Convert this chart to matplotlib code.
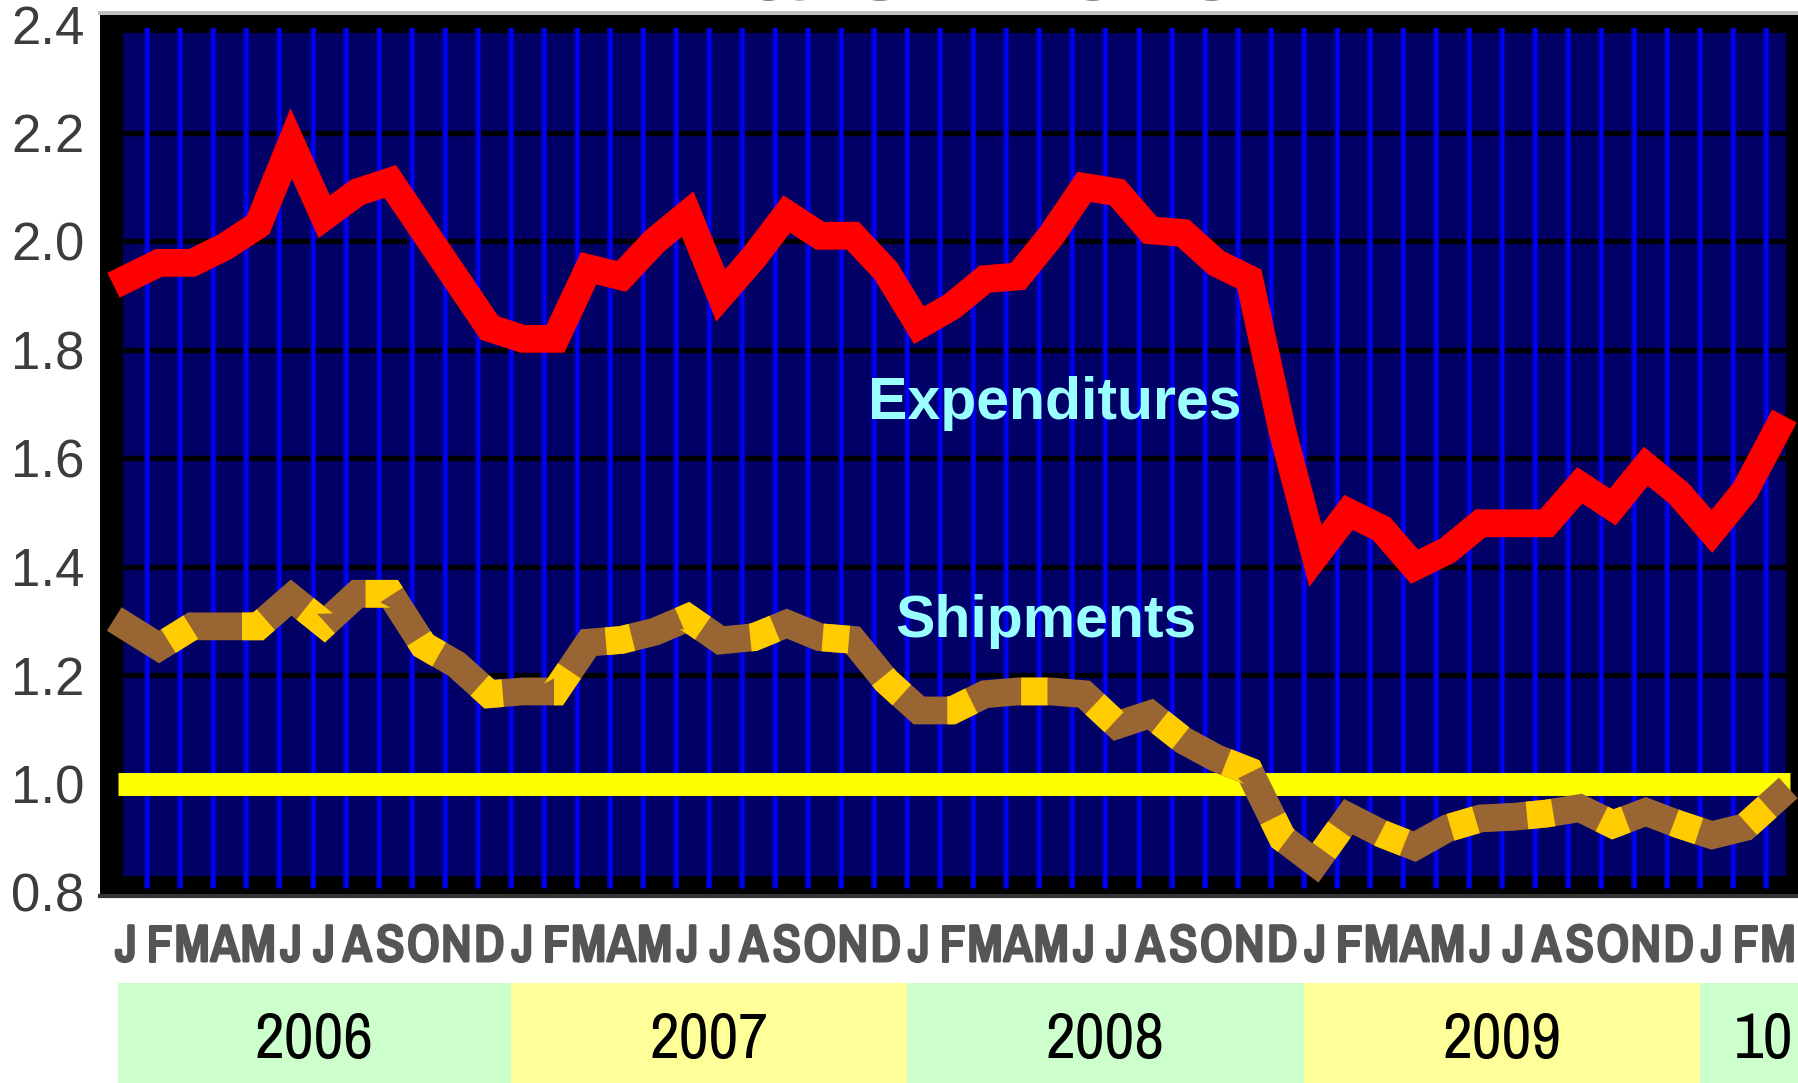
import matplotlib
matplotlib.use("Agg")
import matplotlib.pyplot as plt
import matplotlib.patheffects as pe
from matplotlib import font_manager
from matplotlib.patches import Rectangle

# monthly index Jan 2006 .. Mar 2010
months = list(range(51))
month_letters = list("JFMAMJJASOND") * 4 + list("JFM")

expenditures = [1.93, 1.96, 1.96, 1.99, 2.03, 2.18, 2.045, 2.09, 2.11, 2.02, 1.93, 1.84,
                1.82, 1.82, 1.95, 1.935, 2.00, 2.05, 1.90, 1.97, 2.05, 2.01, 2.01, 1.945,
                1.845, 1.88, 1.93, 1.935, 2.01, 2.10, 2.09, 2.02, 2.015, 1.96, 1.93, 1.65,
                1.42, 1.50, 1.47, 1.40, 1.43, 1.48, 1.48, 1.48, 1.55, 1.51, 1.585, 1.535,
                1.465, 1.54, 1.655]
shipments = [1.29, 1.252, 1.29, 1.29, 1.29, 1.343, 1.294, 1.35, 1.35, 1.255, 1.22, 1.165,
             1.17, 1.17, 1.26, 1.265, 1.28, 1.306, 1.264, 1.27, 1.295, 1.27, 1.265, 1.19,
             1.135, 1.135, 1.165, 1.17, 1.17, 1.165, 1.108, 1.128, 1.08, 1.047, 1.023, 0.90,
             0.854, 0.939, 0.908, 0.884, 0.918, 0.936, 0.939, 0.945, 0.955, 0.925, 0.948, 0.925,
             0.905, 0.92, 0.975]
reference = 1.0

years = ["2006", "2007", "2008", "2009", "10"]
year_colors = ["#ccffcc", "#ffff99", "#ccffcc", "#ffff99", "#ccffcc"]
yticks = [0.8, 1.0, 1.2, 1.4, 1.6, 1.8, 2.0, 2.2, 2.4]

SANS = "Liberation Sans"


def narrow_font():
    # the month letters and years in the original are set in a condensed face
    fonts = font_manager.fontManager.ttflist
    for f in fonts:
        if "Narrow" in f.name:
            return {"family": f.name}, True
    for f in fonts:
        if "Condensed" in f.name:
            return {"family": f.name}, True
    for f in fonts:
        if f.stretch in ("condensed", "semi-condensed", "extra-condensed", 600, 700):
            return {"family": f.name, "stretch": "condensed"}, True
    return {"family": SANS}, False


NARROW, HAVE_NARROW = narrow_font()
MONTH_SIZE = 37 if HAVE_NARROW else 31
YEAR_SIZE = 47 if HAVE_NARROW else 42

NAVY = "#000066"
XMIN, XMAX = -0.787, 50.636
YMIN, YMAX = 0.793, 2.42

fig = plt.figure(figsize=(17.99, 10.83), dpi=100)
ax = fig.add_axes([0.05559, 0.17267, 0.94441, 0.81505])
ax.set_facecolor("black")
ax.set_xlim(XMIN, XMAX)
ax.set_ylim(YMIN, YMAX)

# navy plotting field inside the thick black frame
ax.add_patch(Rectangle((-0.09, 0.829), 50.33, 1.554, facecolor=NAVY, edgecolor="none", zorder=0.5))

# horizontal black grid + blue month separators
ax.hlines([v for v in yticks if v not in (0.8, 1.0, 2.4)], -0.09, 50.24,
          color="black", lw=3.8, zorder=1)
ax.vlines([m + 0.645 for m in months[:-1]], 0.808, 2.393, color="#0000aa", lw=4.5, zorder=1.4)
ax.vlines([m + 0.645 for m in months[:-1]], 0.808, 2.393, color="#0000ff", lw=2.2, zorder=1.5)

# 1.0 reference line
ax.hlines(reference, months[0] - 0.24, months[-1] + 0.35, color="#ffff00", lw=16.5, zorder=2)

ax.plot(months, shipments, color="#996633", lw=20, solid_joinstyle="miter",
        solid_capstyle="projecting", zorder=3)
ax.plot(months, shipments, color="#ffcc00", lw=20, linestyle=(1.0, (0.95, 1.85)),
        dash_capstyle="butt", dash_joinstyle="miter", zorder=3.1)
ax.plot(months, expenditures, color="#ff0000", lw=20, solid_joinstyle="miter",
        solid_capstyle="projecting", zorder=3.2)

ax.text(22.46, 1.672, "Expenditures", ha="left", va="baseline", color="#99ffff",
        fontsize=42.5, fontweight="bold", family=SANS, zorder=4)
ax.text(23.27, 1.270, "Shipments", ha="left", va="baseline", color="#99ffff",
        fontsize=42.5, fontweight="bold", family=SANS, zorder=4)

ax.set_yticks(yticks)
ax.set_yticklabels([f"{v:.1f}" for v in yticks], fontsize=38, family=SANS, color="#3c3c3c")
ax.tick_params(axis="y", length=0, pad=11)
ax.set_xticks([])
heavy = [pe.withStroke(linewidth=2.2, foreground="#555555")]
for m, letter in zip(months, month_letters):
    ax.text(m, -0.0736, letter, transform=ax.get_xaxis_transform(), ha="center",
            va="baseline", fontsize=MONTH_SIZE, fontweight="bold", color="#555555",
            path_effects=heavy, **NARROW)

for side in ("left", "right"):
    ax.spines[side].set_visible(False)
ax.spines["top"].set_color("#c0c0c0")
ax.spines["top"].set_linewidth(2.9)
ax.spines["bottom"].set_color("#333333")
ax.spines["bottom"].set_linewidth(3)

# year band strip
band = fig.add_axes([0.05559, 0.0, 0.94441, 100 / 1083])
band.set_xlim(XMIN, XMAX)
band.set_ylim(0, 1)
band.axis("off")
starts = [-0.24] + [12 * i - 0.355 for i in range(1, len(years))]
ends = starts[1:] + [51.5]
for lab, col, s, e in zip(years, year_colors, starts, ends):
    band.axvspan(s, e, color=col, lw=0)
    band.text((s + e) / 2, 0.25, lab, ha="center", va="baseline", fontsize=YEAR_SIZE,
              color="black", **NARROW)

# title, mostly cut off at the top edge of the picture
fig.text(0.528, 1.0, "March 2010", ha="center", va="baseline", fontsize=77,
         fontweight="bold", family=SANS, color="#808080")

fig.savefig("out.png", dpi=100)
